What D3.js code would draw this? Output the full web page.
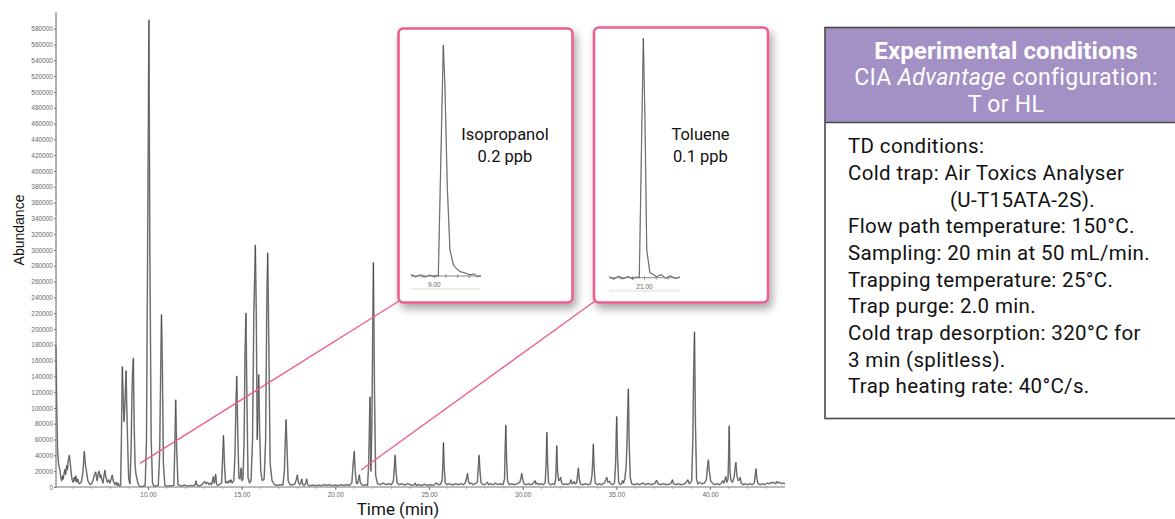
<!DOCTYPE html>
<html>
<head>
<meta charset="utf-8">
<script src="https://cdn.jsdelivr.net/npm/d3@7"></script>
<style>
  html, body { margin: 0; padding: 0; background: #fff; }
  svg { display: block; }
</style>
</head>
<body>
<svg id="chart" width="1175" height="519"></svg>
<script>
// ---------------- DATA ----------------
// Total ion chromatogram: [retention time (min), abundance]
const traceEarly = [
  [5.09,178000],[5.13,100000],[5.17,50000],[5.22,30000],[5.30,21000],[5.35,12000],[5.39,8000],
  [5.44,14000],[5.47,10000],[5.53,18000],[5.57,22000],[5.61,16000],[5.66,27000],[5.70,22000],
  [5.74,33000],[5.80,40000],[5.85,30000],[5.90,18000],[5.95,9000],[6.01,6000],[6.06,12000],
  [6.10,8000],[6.15,14000],[6.19,6000],[6.25,10000],[6.32,4000],[6.40,5000],[6.46,8000],
  [6.53,20000],[6.60,45000],[6.66,28000],[6.73,18000],[6.79,8000],[6.85,5000],[6.92,3000],
  [6.99,4000],[7.06,8000],[7.13,15000],[7.21,19000],[7.26,10000],[7.29,8000],[7.35,18000],
  [7.40,20000],[7.45,12000],[7.49,15000],[7.53,10000],[7.60,5000],[7.65,14000],[7.70,21000],
  [7.76,12000],[7.83,6000],[7.90,9000],[7.97,5000],[8.03,10000],[8.09,15000],[8.15,7000],
  [8.24,3000],[8.30,6000],[8.36,2000],[8.41,5000],[8.48,1000],[8.54,2000],[8.58,60000],
  [8.63,152000],[8.68,110000],[8.72,83000],[8.76,100000],[8.83,147000],[8.87,100000],
  [8.92,50000],[8.97,10000],[9.04,4000],[9.10,50000],[9.14,110000],[9.18,150000],[9.22,163000],
  [9.26,80000],[9.31,28000],[9.36,16000],[9.40,12000],[9.46,5000],[9.52,2000],[9.60,500],
  [9.75,1000],[9.85,2000],[9.92,60000],[9.98,300000],[10.05,591000],[10.10,300000],[10.17,60000],
  [10.24,5000],[10.32,1000],[10.45,1500],[10.55,2000],[10.62,40000],[10.68,150000],[10.72,218000],
  [10.77,150000],[10.82,30000],[10.90,2000],[11.05,1000],[11.20,1500],[11.38,2000],[11.43,50000],
  [11.48,110000],[11.53,50000],[11.60,3000],[11.70,2000]
];
const traceMid = [
  [11.80,1000],[11.95,2500],[12.10,1000],[12.25,2000],[12.40,1500],[12.52,3000],[12.56,7500],
  [12.62,2000],[12.75,1500],[12.90,3000],[12.97,6000],[13.04,7000],[13.10,4000],[13.18,6000],
  [13.25,3000],[13.32,5000],[13.40,3000],[13.45,9000],[13.49,13000],[13.53,5000],[13.58,9000],
  [13.61,16000],[13.66,4000],[13.72,2000],[13.80,3000],[13.93,5000],[13.98,35000],[14.03,65000],
  [14.08,30000],[14.14,5000],[14.20,7000],[14.27,5000],[14.33,8000],[14.38,6000],[14.43,9000],
  [14.49,5000],[14.58,8000],[14.64,40000],[14.70,110000],[14.74,140000],[14.79,70000],
  [14.85,12000],[14.91,10000],[14.97,24000],[15.02,8000],[15.07,10000],[15.13,60000],
  [15.18,170000],[15.23,220000],[15.28,110000],[15.34,12000],[15.42,5000],[15.50,8000],
  [15.58,60000],[15.65,220000],[15.73,306000],[15.78,220000],[15.83,60000],[15.87,100000],
  [15.91,142000],[15.96,70000],[16.02,20000],[16.10,8000],[16.20,10000],[16.28,60000],
  [16.34,230000],[16.39,296000],[16.45,180000],[16.52,30000],[16.62,8000],[16.75,3000],
  [16.90,2000],[17.05,3000],[17.20,2500],[17.28,20000],[17.33,60000],[17.37,85000],[17.42,50000],
  [17.48,8000],[17.58,3000],[17.70,2500],[17.85,4000],[17.92,10000],[17.97,15000],[18.03,6000],
  [18.10,3000],[18.17,6000],[18.21,10000],[18.26,3000],[18.35,2000],[18.42,5000],[18.47,10000],
  [18.52,3000],[18.62,1500],[18.80,2500],[18.95,1500],[19.10,2500],[19.25,1500],[19.40,3000],
  [19.55,2000],[19.70,3000],[19.85,1500],[20.00,2500],[20.15,1500],[20.30,3000],[20.45,2000],
  [20.60,3000],[20.75,2000],[20.88,5000],[20.95,30000],[21.01,45000],[21.06,20000],[21.12,5000],
  [21.18,4000],[21.24,10000],[21.28,15000],[21.33,6000],[21.40,3000],[21.50,2000],[21.62,3000],
  [21.72,2000],[21.78,30000],[21.85,114000],[21.90,20000],[21.95,80000],[22.03,284000],
  [22.09,120000],[22.15,15000],[22.25,4000]
];
const traceLate = [
  [22.40,3000],[22.55,5000],[22.70,3000],[22.85,4000],[23.00,3000],[23.10,8000],[23.15,25000],
  [23.19,40000],[23.24,20000],[23.30,5000],[23.40,3000],[23.55,4000],[23.70,2500],[23.85,4000],
  [24.00,3000],[24.15,2000],[24.22,3000],[24.26,5000],[24.32,2000],[24.45,3000],[24.60,2000],
  [24.75,3500],[24.90,2000],[25.05,3000],[25.20,2000],[25.30,3000],[25.37,5000],[25.41,5000],
  [25.48,3000],[25.60,3000],[25.70,8000],[25.74,30000],[25.77,56000],[25.81,25000],[25.87,5000],
  [25.95,3000],[26.10,4000],[26.25,2500],[26.40,4000],[26.55,3000],[26.70,4000],[26.85,3000],
  [26.95,6000],[27.01,12000],[27.05,17000],[27.10,8000],[27.16,4000],[27.25,5000],[27.35,3000],
  [27.45,4000],[27.58,6000],[27.63,25000],[27.67,40000],[27.72,20000],[27.78,5000],[27.88,3000],
  [28.00,3500],[28.08,5000],[28.12,6000],[28.18,3000],[28.30,4000],[28.42,3000],[28.55,5000],
  [28.68,3000],[28.80,4000],[28.95,3000],[29.03,10000],[29.06,45000],[29.10,78000],[29.14,35000],
  [29.19,8000],[29.28,3000],[29.40,4000],[29.55,3000],[29.70,4000],[29.85,6000],[29.91,12000],
  [29.95,17000],[30.00,10000],[30.06,4000],[30.18,3000],[30.30,4000],[30.45,3000],[30.55,4000],
  [30.62,7000],[30.66,8000],[30.70,4000],[30.78,5000],[30.84,3000],[30.95,4000],[31.08,3000],
  [31.20,5000],[31.25,30000],[31.29,69000],[31.33,30000],[31.38,5000],[31.48,3000],[31.60,4000],
  [31.70,3000],[31.76,10000],[31.79,30000],[31.82,52000],[31.86,20000],[31.92,8000],[31.98,9000],
  [32.03,12000],[32.08,5000],[32.18,3000],[32.30,4000],[32.42,3000],[32.52,5000],[32.58,9000],
  [32.63,4000],[32.70,5000],[32.75,7000],[32.80,4000],[32.88,5000],[32.93,15000],[32.97,24000],
  [33.02,10000],[33.08,4000],[33.20,3000],[33.35,4000],[33.50,3000],[33.62,4000],[33.70,15000],
  [33.74,35000],[33.77,54000],[33.81,25000],[33.87,5000],[33.98,3000],[34.10,4000],[34.22,3000],
  [34.35,5000],[34.44,9000],[34.49,12000],[34.55,6000],[34.63,7000],[34.70,4000],[34.80,3000],
  [34.90,5000],[34.96,30000],[35.00,75000],[35.02,89000],[35.06,40000],[35.12,6000],[35.20,3000],
  [35.28,4000],[35.33,8000],[35.38,5000],[35.45,10000],[35.52,26000],[35.56,50000],[35.60,90000],
  [35.64,124000],[35.68,60000],[35.74,12000],[35.82,4000],[35.95,3000],[36.10,4000],[36.25,3000],
  [36.40,5000],[36.55,3000],[36.70,4500],[36.85,3000],[37.00,4000],[37.08,5000],[37.12,8000],
  [37.16,8000],[37.22,4000],[37.35,3000],[37.50,4000],[37.65,3000],[37.80,3500],[37.93,5000],
  [37.99,9000],[38.05,4000],[38.18,3000],[38.30,4000],[38.45,3000],[38.58,3500],[38.70,5000],
  [38.81,9000],[38.90,4000],[39.02,8000],[39.08,60000],[39.12,140000],[39.17,196000],[39.22,80000],
  [39.28,10000],[39.35,4000],[39.45,6000],[39.55,4000],[39.70,5000],[39.80,9000],[39.86,25000],
  [39.91,34000],[39.96,20000],[40.03,8000],[40.12,5000],[40.25,3000],[40.38,4000],[40.50,3000],
  [40.60,5000],[40.68,8000],[40.74,5000],[40.80,9000],[40.84,13000],[40.90,6000],[40.96,10000],
  [40.99,40000],[41.02,77000],[41.06,20000],[41.12,8000],[41.20,6000],[41.28,12000],[41.34,25000],
  [41.38,31000],[41.43,15000],[41.50,8000],[41.56,9000],[41.61,12000],[41.66,5000],[41.75,3000],
  [41.88,4000],[42.00,3000],[42.12,4000],[42.25,3000],[42.36,5000],[42.41,15000],[42.45,23000],
  [42.50,10000],[42.56,4000],[42.68,3000],[42.80,4000],[42.92,3000],[43.05,5000],[43.15,4000],
  [43.25,6000],[43.30,5000],[43.40,6000],[43.50,4000],[43.56,7000],[43.62,5000],[43.72,6000],
  [43.82,4000],[43.90,5000],[44.00,4000]
];

// Axis ticks
const yTickValues = d3.range(0, 580001, 20000);
const xTickValues = [10, 15, 20, 25, 30, 35, 40];

// Call-outs: point in the chromatogram each inset refers to
const calloutTime = [9.57, 21.37];
const calloutAbundance = [30000, 21500];

// Inset 1: isopropanol peak (relative signal, %)
const isoTime   = [8.80, 8.84, 8.88, 8.92, 8.96, 9.00, 9.03, 9.034, 9.077, 9.091, 9.111, 9.134, 9.163, 9.19, 9.22, 9.26, 9.306, 9.34, 9.37, 9.40];
const isoSignal = [0.6, -0.4, 0.5, -0.5, 0.4, -0.3, 0.3, 0, 100, 82, 38.7, 11.3, 4.8, 3.2, 1.9, 1.4, 0.5, 0.9, -0.3, 0.2];
const isoTicks = [8.9, 9.0, 9.1, 9.2, 9.3];
const isoLabel = "9.00";

// Inset 2: toluene peak (relative signal, %)
const tolTime   = [20.70, 20.74, 20.78, 20.82, 20.86, 20.90, 20.93, 20.956, 20.99, 21.004, 21.019, 21.046, 21.07, 21.103, 21.14, 21.18, 21.22, 21.26, 21.30];
const tolSignal = [0.4, -0.6, 0.6, -0.4, 0.5, -0.5, 0.3, 0, 100, 65.9, 11.6, 2.0, 1.5, 0.4, 1.3, -0.2, 0.8, -0.4, 0.3];
const tolTicks = [20.8, 20.9, 21.0, 21.1, 21.2];
const tolLabel = "21.00";

const insetTitles = [["Isopropanol", "0.2 ppb"], ["Toluene", "0.1 ppb"]];

const conditionsHeader = ["Experimental conditions", "CIA ", "Advantage", " configuration:", "T or HL"];
const conditionsLines = [
  "TD conditions:",
  "Cold trap: Air Toxics Analyser",
  "(U-T15ATA-2S).",
  "Flow path temperature: 150°C.",
  "Sampling: 20 min at 50 mL/min.",
  "Trapping temperature: 25°C.",
  "Trap purge: 2.0 min.",
  "Cold trap desorption: 320°C for",
  "3 min (splitless).",
  "Trap heating rate: 40°C/s."
];

// ---------------- DRAWING ----------------
const svg = d3.select("#chart");
const PINK = "#ec5f8d";
const PURPLE = "#a390c4";

const defs = svg.append("defs");
const f = defs.append("filter").attr("id", "shadow").attr("x", "-10%").attr("y", "-10%").attr("width", "130%").attr("height", "130%");
f.append("feDropShadow").attr("dx", 3).attr("dy", 5).attr("stdDeviation", 4.5)
  .attr("flood-color", "#000").attr("flood-opacity", 0.35);

const x = d3.scaleLinear().domain([5.09, 44.0]).range([56, 785]);
const y = d3.scaleLinear().domain([0, 600000]).range([487, 13]);

const chromatogram = traceEarly.concat(traceMid, traceLate);

// Axes
const yAxis = d3.axisLeft(y).tickValues(yTickValues).tickSize(2).tickPadding(1).tickFormat(d3.format("d"));
const gy = svg.append("g").attr("transform", "translate(56,0)").call(yAxis);
gy.select(".domain").attr("stroke", "#777").attr("d", "M0,487V13");
gy.selectAll(".tick line").attr("stroke", "#777");
gy.selectAll(".tick text").attr("fill", "#666").style("font", "6.5px 'Liberation Sans', Arial, sans-serif");
// minor y ticks
svg.append("g").selectAll("line").data(d3.range(0, 600001, 4000)).join("line")
  .attr("x1", 55).attr("x2", 57).attr("y1", d => y(d)).attr("y2", d => y(d))
  .attr("stroke", "#888").attr("stroke-width", 0.6);

const xAxis = d3.axisBottom(x).tickValues(xTickValues).tickSize(3).tickPadding(2).tickFormat(d3.format(".2f"));
const gx = svg.append("g").attr("transform", "translate(0,487)").call(xAxis);
gx.select(".domain").attr("stroke", "#777").attr("d", "M56,0H785");
gx.selectAll(".tick line").attr("stroke", "#777");
gx.selectAll(".tick text").attr("fill", "#666").style("font", "6.5px 'Liberation Sans', Arial, sans-serif");
svg.append("g").selectAll("line").data(d3.range(6, 44, 1)).join("line")
  .attr("x1", d => x(d)).attr("x2", d => x(d)).attr("y1", 487).attr("y2", 489)
  .attr("stroke", "#888").attr("stroke-width", 0.6);

// Axis titles
svg.append("text").attr("transform", "translate(24,230) rotate(-90)")
  .attr("text-anchor", "middle").attr("fill", "#111")
  .style("font", "14px 'Liberation Sans', Arial, sans-serif").text("Abundance");
svg.append("text").attr("x", 398).attr("y", 515).attr("text-anchor", "middle").attr("fill", "#111")
  .style("font", "17px Roboto, 'Liberation Sans', sans-serif").text("Time (min)");

// Chromatogram trace
const line = d3.line().x(d => x(d[0])).y(d => y(d[1]));
svg.append("path").datum(chromatogram).attr("d", line)
  .attr("fill", "none").attr("stroke", "#a0a0a0").attr("stroke-width", 1.6).attr("stroke-linejoin", "round");
svg.append("path").datum(chromatogram).attr("d", line)
  .attr("fill", "none").attr("stroke", "#111").attr("stroke-width", 0.55).attr("stroke-opacity", 0.75);

// Call-out lines
const insetCorners = [[399, 301], [595, 301]];
calloutTime.forEach((t, i) => {
  svg.append("line").attr("x1", x(t)).attr("y1", y(calloutAbundance[i]))
    .attr("x2", insetCorners[i][0]).attr("y2", insetCorners[i][1])
    .attr("stroke", PINK).attr("stroke-width", 1.4);
});

// Insets
const insets = [
  { box: [398.5, 28.5, 174, 274], xr: [411, 481], dom: [8.8, 9.4], yr: [276, 45], t: isoTime, s: isoSignal, ticks: isoTicks, label: isoLabel, labelT: 9.0, title: insetTitles[0], tx: 505 },
  { box: [594, 27.5, 174, 275], xr: [609, 680], dom: [20.7, 21.3], yr: [277.7, 38.3], t: tolTime, s: tolSignal, ticks: tolTicks, label: tolLabel, labelT: 21.0, title: insetTitles[1], tx: 700.5 }
];
insets.forEach(ins => {
  const g = svg.append("g");
  g.append("rect").attr("x", ins.box[0]).attr("y", ins.box[1]).attr("width", ins.box[2]).attr("height", ins.box[3])
    .attr("rx", 5).attr("fill", "#fff").attr("stroke", PINK).attr("stroke-width", 2.6).attr("filter", "url(#shadow)");
  const ix = d3.scaleLinear().domain(ins.dom).range(ins.xr);
  const iy = d3.scaleLinear().domain([0, 100]).range(ins.yr);
  g.append("line").attr("x1", ins.xr[0]).attr("x2", ins.xr[1]).attr("y1", ins.yr[0] + 13).attr("y2", ins.yr[0] + 13)
    .attr("stroke", "#efebe4").attr("stroke-width", 2);
  g.append("line").attr("x1", ins.xr[0]).attr("x2", ins.xr[1]).attr("y1", ins.yr[0]).attr("y2", ins.yr[0])
    .attr("stroke", "#555").attr("stroke-width", 0.7);
  g.selectAll(".mt").data(ins.ticks).join("line")
    .attr("x1", d => ix(d)).attr("x2", d => ix(d)).attr("y1", ins.yr[0] - 1.5).attr("y2", ins.yr[0] + 2)
    .attr("stroke", "#555").attr("stroke-width", 0.6);
  g.append("text").attr("x", ix(ins.labelT)).attr("y", ins.yr[0] + 11).attr("text-anchor", "middle")
    .attr("fill", "#666").style("font", "6.5px 'Liberation Sans', Arial, sans-serif").text(ins.label);
  const pts = ins.t.map((t, i) => [t, ins.s[i]]);
  const il = d3.line().x(d => ix(d[0])).y(d => iy(d[1]));
  g.append("path").datum(pts).attr("d", il).attr("fill", "none").attr("stroke", "#a8a8a8").attr("stroke-width", 1.3);
  g.append("path").datum(pts).attr("d", il).attr("fill", "none").attr("stroke", "#333").attr("stroke-width", 0.5);
  g.append("text").attr("x", ins.tx).attr("y", 139.5).attr("text-anchor", "middle").attr("fill", "#111")
    .style("font", "16.5px Roboto, sans-serif").text(ins.title[0]);
  g.append("text").attr("x", ins.tx).attr("y", 162).attr("text-anchor", "middle").attr("fill", "#111")
    .style("font", "16.5px Roboto, sans-serif").text(ins.title[1]);
});

// Conditions panel
const panel = svg.append("g");
panel.append("rect").attr("x", 825).attr("y", 27.5).attr("width", 360).attr("height", 95)
  .attr("fill", PURPLE);
panel.append("rect").attr("x", 825).attr("y", 27.5).attr("width", 360).attr("height", 391)
  .attr("fill", "none").attr("stroke", "#4a4a4a").attr("stroke-width", 1.6);
panel.append("line").attr("x1", 825).attr("x2", 1185).attr("y1", 122.5).attr("y2", 122.5)
  .attr("stroke", "#4a4a4a").attr("stroke-width", 1.6);
panel.append("text").attr("x", 1006).attr("y", 58.5).attr("text-anchor", "middle").attr("fill", "#fff")
  .style("font", "bold 24px Roboto, sans-serif").style("letter-spacing", "0.1px").text(conditionsHeader[0]);
const l2 = panel.append("text").attr("x", 1006).attr("y", 85).attr("text-anchor", "middle").attr("fill", "#fff")
  .style("font", "23px Roboto, sans-serif").style("letter-spacing", "0.3px");
l2.append("tspan").text(conditionsHeader[1]);
l2.append("tspan").style("font-style", "italic").text(conditionsHeader[2]);
l2.append("tspan").text(conditionsHeader[3]);
panel.append("text").attr("x", 1006).attr("y", 111.5).attr("text-anchor", "middle").attr("fill", "#fff")
  .style("font", "23px Roboto, sans-serif").style("letter-spacing", "0.3px").text(conditionsHeader[4]);
panel.selectAll(".cl").data(conditionsLines).join("text")
  .attr("x", (d, i) => i === 2 ? 950 : 848)
  .attr("y", (d, i) => 153.3 + i * 26.67)
  .attr("fill", "#111")
  .style("font", "20.5px Roboto, sans-serif")
  .style("letter-spacing", "0.35px")
  .text(d => d);
</script>
</body>
</html>
